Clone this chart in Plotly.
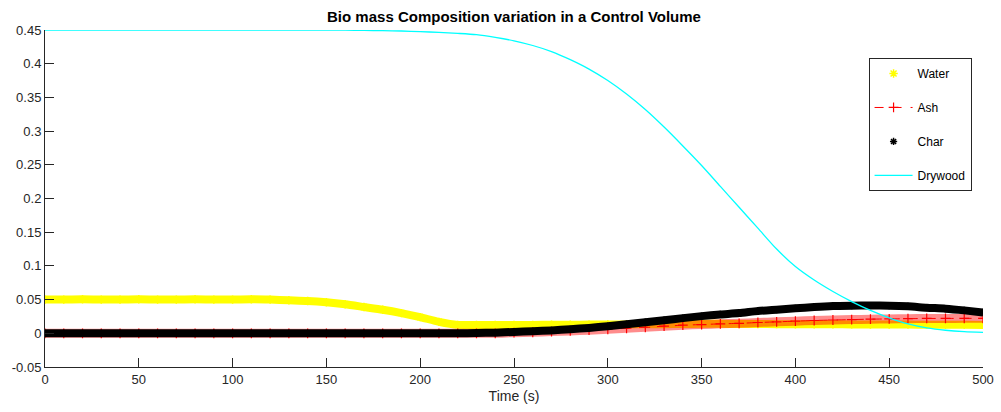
import plotly.graph_objects as go

# Time axis (s)
time_s = [0, 10, 20, 30, 40, 50, 60, 70, 80, 90, 100, 110, 120, 130, 140, 150, 160, 170, 180, 190,
          200, 210, 220, 230, 240, 250, 260, 270, 280, 290, 300, 310, 320, 330, 340, 350, 360, 370,
          380, 390, 400, 410, 420, 430, 440, 450, 460, 470, 480, 490, 500]

water = [0.050, 0.050, 0.0505, 0.050, 0.050, 0.0505, 0.050, 0.050, 0.0505, 0.050, 0.050, 0.0505,
         0.050, 0.049, 0.048, 0.046, 0.043, 0.039, 0.035, 0.030, 0.024, 0.017, 0.0125, 0.0125,
         0.0125, 0.0125, 0.0125, 0.0127, 0.0128, 0.0129, 0.013, 0.0132, 0.0134, 0.0136, 0.0138,
         0.014, 0.014, 0.0139, 0.0137, 0.0136, 0.0135, 0.0134, 0.0133, 0.0132, 0.0131, 0.013,
         0.0129, 0.0128, 0.0127, 0.0126, 0.0125]

ash = [0, 0, 0, 0, 0, 0, 0, 0, 0, 0, 0, 0, 0, 0, 0, 0, 0, 0, 0, 0, 0, 0, 0, 0, 0,
       0.001, 0.0015, 0.0025, 0.0035, 0.0047, 0.006, 0.0075, 0.009, 0.0105, 0.012, 0.013, 0.014,
       0.0148, 0.016, 0.017, 0.018, 0.019, 0.0197, 0.0203, 0.021, 0.0213, 0.0217, 0.022, 0.022,
       0.0222, 0.0222]

char = [0, 0, 0, 0, 0, 0, 0, 0, 0, 0, 0, 0, 0, 0, 0, 0, 0, 0, 0, 0, 0, 0, 0,
        0.0004, 0.001, 0.002, 0.003, 0.0043, 0.006, 0.008, 0.0105, 0.0135, 0.0165, 0.0195, 0.0225,
        0.0255, 0.028, 0.030, 0.033, 0.035, 0.037, 0.039, 0.0405, 0.041, 0.0412, 0.041, 0.040,
        0.038, 0.0365, 0.034, 0.031]

drywood = [0.45, 0.45, 0.45, 0.45, 0.45, 0.45, 0.45, 0.45, 0.45, 0.45, 0.45, 0.45, 0.45, 0.45,
           0.45, 0.45, 0.4498, 0.4495, 0.449, 0.4485, 0.4475, 0.4465, 0.445, 0.443, 0.439, 0.434,
           0.427, 0.418, 0.406, 0.392, 0.375, 0.355, 0.332, 0.306, 0.278, 0.249, 0.218, 0.187,
           0.156, 0.125, 0.099, 0.079, 0.062, 0.047, 0.034, 0.023, 0.014, 0.008, 0.0045, 0.0025,
           0.0015]

x_ticks = [0, 50, 100, 150, 200, 250, 300, 350, 400, 450, 500]
y_ticks = [-0.05, 0, 0.05, 0.1, 0.15, 0.2, 0.25, 0.3, 0.35, 0.4, 0.45]
y_tick_text = ["-0.05", "0", "0.05", "0.1", "0.15", "0.2", "0.25", "0.3", "0.35", "0.4", "0.45"]

AXC = "#262626"
FONT = "Liberation Sans, Arial, sans-serif"

fig = go.Figure()

# Water
fig.add_trace(go.Scatter(x=time_s, y=water, mode="lines", showlegend=False, hoverinfo="skip",
                         line=dict(color="#FFFF00", width=8, shape="spline", smoothing=0.6)))
fig.add_trace(go.Scatter(x=time_s, y=water, mode="markers", name="Water", legendgroup="w",
                         marker=dict(symbol="asterisk-open", size=7, color="#FFFF00",
                                     line=dict(color="#FFFF00", width=1.5))))
# Ash
fig.add_trace(go.Scatter(x=time_s, y=ash, mode="lines", showlegend=False, hoverinfo="skip",
                         line=dict(color="rgba(255,0,0,0.45)", width=9, shape="spline", smoothing=0.6)))
fig.add_trace(go.Scatter(x=time_s, y=ash, mode="lines+markers", name="Ash", legendgroup="a",
                         line=dict(color="#FF0000", width=1, dash="dash", shape="spline", smoothing=0.6),
                         marker=dict(symbol="cross-thin-open", size=7, color="#FF0000",
                                     line=dict(color="#FF0000", width=1.2))))
# Char
fig.add_trace(go.Scatter(x=time_s, y=char, mode="lines", showlegend=False, hoverinfo="skip",
                         line=dict(color="#000000", width=8, shape="spline", smoothing=0.6)))
fig.add_trace(go.Scatter(x=time_s, y=char, mode="markers", name="Char", legendgroup="c",
                         marker=dict(symbol="asterisk-open", size=6, color="#000000",
                                     line=dict(color="#000000", width=1.5))))
# Drywood
fig.add_trace(go.Scatter(x=time_s, y=drywood, mode="lines", name="Drywood", legendgroup="d",
                         line=dict(color="#00FFFF", width=1.3, shape="spline", smoothing=0.8)))

fig.update_layout(
    width=1001, height=412,
    margin=dict(l=45, r=18, t=30, b=45, autoexpand=False),
    paper_bgcolor="white", plot_bgcolor="white",
    font=dict(family=FONT, size=13, color=AXC),
    title=dict(text="<b>Bio mass Composition variation in a Control Volume</b>",
               x=0.5, xref="paper", xanchor="center",
               y=1 - 17 / 412, yref="container", yanchor="middle",
               font=dict(family=FONT, size=15, color="#000000")),
    xaxis=dict(range=[0, 500], tickvals=x_ticks, ticks="inside", ticklen=9, tickcolor=AXC,
               showline=True, linecolor=AXC, linewidth=1, showgrid=False, zeroline=False,
               automargin=False,
               mirror=False, title=dict(text="Time (s)", standoff=5, font=dict(size=14))),
    yaxis=dict(range=[-0.05, 0.45], tickvals=y_ticks, ticktext=y_tick_text, ticks="inside",
               ticklen=9, tickcolor=AXC, showline=True, linecolor=AXC, linewidth=1,
               automargin=False,
               showgrid=False, zeroline=False, mirror=False),
    legend=dict(x=0.878, y=0.917, xanchor="left", yanchor="top",
                bgcolor="white", bordercolor=AXC, borderwidth=1,
                font=dict(family=FONT, size=12, color="#000000"),
                tracegroupgap=15, itemwidth=38),
)

fig.write_html("out.html")
